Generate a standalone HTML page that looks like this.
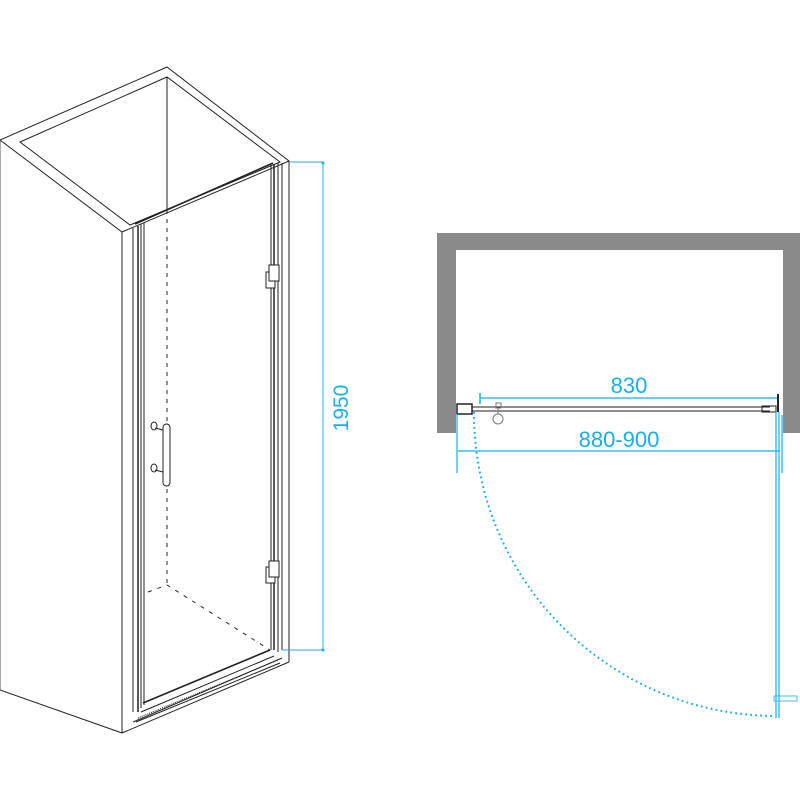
<!DOCTYPE html>
<html><head><style>html,body{margin:0;padding:0;background:#fff}svg{display:block}</style></head>
<body>
<svg width="800" height="800" viewBox="0 0 800 800" xmlns="http://www.w3.org/2000/svg" font-family="Liberation Sans, sans-serif">
<g fill="none" stroke="#222" stroke-width="1">
  <polygon points="0,140 167,67 289,161 122,232"/>
  <polygon points="20,142 167,77 280,162 130,225"/>
  <line x1="167" y1="77" x2="167" y2="210"/>
  <line x1="167" y1="210" x2="167" y2="585" stroke-dasharray="4,5"/>
  <polyline points="148,592 167,585 270,650" stroke-dasharray="4,6"/>
  <line x1="0" y1="140" x2="0" y2="690" stroke="#555"/>
  <line x1="0" y1="690" x2="122" y2="733"/>
  <line x1="122" y1="232" x2="122" y2="733"/>
  <line x1="133" y1="228" x2="133" y2="712"/>
  <line x1="289" y1="161" x2="289" y2="662"/>
  <line x1="282" y1="163" x2="282" y2="650"/>
  <line x1="122" y1="733" x2="289" y2="662"/>
  <line x1="133" y1="722" x2="282" y2="658"/>
  <line x1="135" y1="224" x2="273" y2="163" stroke-width="1.6"/>
  <line x1="138" y1="226" x2="138" y2="712" stroke-width="1.5"/>
  <line x1="141" y1="224" x2="141" y2="708"/>
  <line x1="144" y1="223" x2="144" y2="705"/>
  <line x1="271" y1="165" x2="271" y2="650"/>
  <line x1="274" y1="164" x2="274" y2="650" stroke-width="1.5"/>
  <line x1="278" y1="163" x2="278" y2="652"/>
  <line x1="143" y1="703" x2="270" y2="650" stroke-width="1.6"/>
  <line x1="141" y1="712" x2="274" y2="656"/>
  <line x1="138" y1="718" x2="278" y2="660" stroke-dasharray="1,1"/>
  <line x1="136" y1="722" x2="280" y2="663"/>
  <rect x="266" y="272" width="9" height="16" fill="#fff"/>
  <rect x="269" y="265" width="10" height="16" fill="#fff"/>
  <rect x="266" y="567" width="9" height="16" fill="#fff"/>
  <rect x="269" y="561" width="10" height="16" fill="#fff"/>
  <rect x="163" y="424" width="7" height="62" rx="3.5" fill="#fff"/>
  <line x1="155" y1="428" x2="163" y2="430"/>
  <ellipse cx="154" cy="426" rx="3" ry="4"/>
  <line x1="155" y1="470" x2="163" y2="472"/>
  <ellipse cx="154" cy="468" rx="3" ry="4"/>
</g>
<g stroke="#19aee6" stroke-width="1" fill="none">
  <polyline points="289,162 323,162 323,650 282,650"/>
</g>
<circle cx="323" cy="163" r="1.5" fill="#19aee6"/>
<circle cx="323" cy="650" r="1.5" fill="#19aee6"/>
<text x="348" y="408" font-size="21" fill="#19aee6" text-anchor="middle" transform="rotate(-90 348 408)">1950</text>

<path d="M437,433 V233 H800 V433 H783 V250 H456 V433 Z" fill="#8a8a8a"/>
<g stroke="#222" fill="none">
  <rect x="457" y="404" width="15" height="10" stroke-width="1.5"/>
  <line x1="472" y1="407" x2="770" y2="407"/>
  <line x1="472" y1="411" x2="770" y2="411"/>
  <rect x="762" y="406" width="14" height="6"/>
  <line x1="778" y1="394" x2="778" y2="412" stroke-width="2"/>
  <rect x="496" y="403" width="5" height="5" stroke="#777"/>
  <line x1="498" y1="408" x2="498" y2="414" stroke="#777"/>
  <circle cx="498" cy="419" r="5" stroke="#777"/>
</g>
<g stroke="#19aee6" fill="none" stroke-width="1.2">
  <line x1="480" y1="398" x2="777" y2="398"/>
  <line x1="480" y1="393" x2="480" y2="404" stroke-width="1.5"/>
  <line x1="457" y1="414" x2="457" y2="473"/>
  <line x1="458" y1="451" x2="780" y2="451"/>
  <line x1="776" y1="412" x2="776" y2="718"/>
  <line x1="779" y1="412" x2="779" y2="718"/>
  <line x1="782" y1="415" x2="782" y2="473"/>
  <rect x="774" y="696" width="23" height="5" stroke-width="0.8"/>
  <path d="M474,412 A303,303 0 0 0 775,716" stroke-dasharray="1.8,3.2" stroke-width="2"/>
</g>
<text x="629" y="393" font-size="22" fill="#19aee6" text-anchor="middle">830</text>
<text x="619" y="447" font-size="22" fill="#19aee6" text-anchor="middle">880-900</text>
</svg>
</body></html>
